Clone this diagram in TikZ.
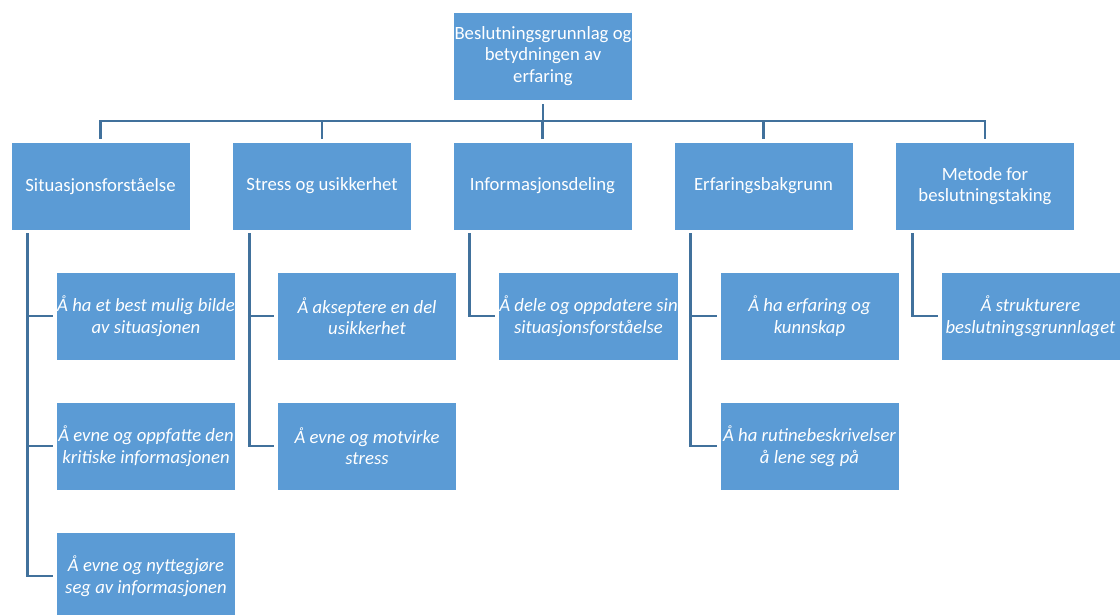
\documentclass[tikz,border=0pt]{standalone}
\usepackage{fontspec}
\setmainfont{Carlito}
\definecolor{boxblue}{HTML}{5B9BD5}
\definecolor{linkblue}{HTML}{41719C}
\begin{document}
\begin{tikzpicture}[x=1pt,y=-1pt,
  box/.style={fill=boxblue,draw=white,line width=0.6pt,minimum width=179pt,minimum height=88pt,
    inner sep=1pt,text=white,align=center,font=\fontsize{18.7}{21.5}\selectfont},
  sub/.style={box,font=\fontsize{18.7}{21.5}\selectfont\itshape},
  conn/.style={draw=linkblue,line width=2.8pt},
  branch/.style={conn,shorten <=3pt,shorten >=3pt}]
\useasboundingbox (0,0) rectangle (1120,614);

% top node
\node[box] (root) at (543,56) {Beslutningsgrunnlag og\\betydningen av\\erfaring};

% main themes
\node[box] (s1) at (100.5,186) {Situasjonsforståelse};
\node[box] (s2) at (322,186) {Stress og usikkerhet};
\node[box] (s3) at (542.5,186) {Informasjonsdeling};
\node[box] (s4) at (763.5,186) {Erfaringsbakgrunn};
\node[box] (s5) at (985,186) {Metode for\\beslutningstaking};

% sub themes
\node[sub] (c11) at (146,316) {Å ha et best mulig bilde\\av situasjonen};
\node[sub] (c12) at (146,446) {Å evne og oppfatte den\\kritiske informasjonen};
\node[sub] (c13) at (146,576) {Å evne og nyttegjøre\\seg av informasjonen};
\node[sub] (c21) at (367,316) {Å akseptere en del\\usikkerhet};
\node[sub] (c22) at (367,446) {Å evne og motvirke\\stress};
\node[sub] (c31) at (588.5,316) {Å dele og oppdatere sin\\situasjonsforståelse};
\node[sub] (c41) at (809.5,316) {Å ha erfaring og\\kunnskap};
\node[sub] (c42) at (809.5,446) {Å ha rutinebeskrivelser\\å lene seg på};
\node[sub] (c51) at (1030.5,316) {Å strukturere\\beslutningsgrunnlaget};

% connectors from the top node to the main themes
\coordinate (bus) at (0,121);
\draw[conn,shorten <=4pt] (root.south) -- (root.south |- bus);
\foreach \n in {s1,s2,s3,s4,s5}
  \draw[conn,shorten >=3pt] (root.south |- bus) -| (\n.north);

% connectors from the main themes to their sub themes
\foreach \p/\c in {s1/c11,s1/c12,s1/c13,s2/c21,s2/c22,s3/c31,s4/c41,s4/c42,s5/c51}
  \draw[branch] ([xshift=17pt]\p.south west) |- (\c.west);
\end{tikzpicture}
\end{document}
